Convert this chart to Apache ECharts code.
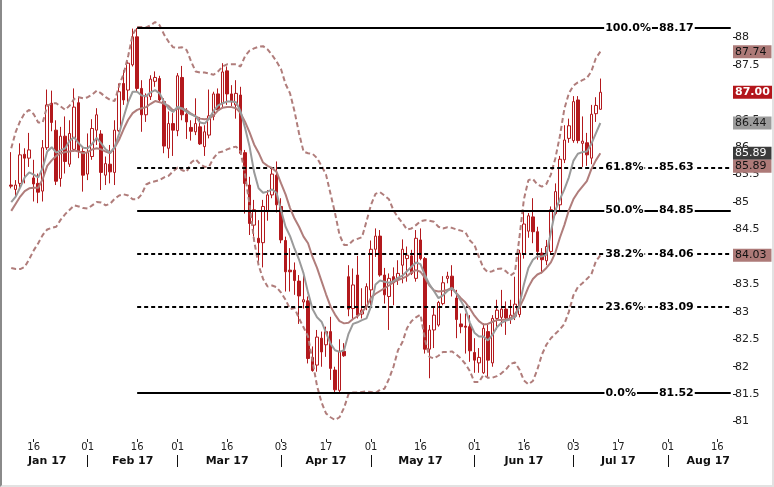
<!DOCTYPE html>
<html><head><meta charset="utf-8">
<script src="https://cdn.jsdelivr.net/npm/echarts@6/dist/echarts.min.js"></script>
<style>
html,body{margin:0;padding:0;background:#fff;}
#wrap{position:relative;width:774px;height:487px;}
#c{width:774px;height:487px;}
#frame{position:absolute;left:0;top:0;width:774px;height:487px;box-sizing:border-box;border-left:2px solid #8a8a8a;border-right:2px solid #e2e2e2;border-bottom:2px solid #e2e2e2;pointer-events:none;}
</style></head><body>
<div id="wrap"><div id="c"></div><div id="frame"></div></div>
<script>
// ---------- categories / axis labels ----------
const categoryStart = '2017-01-06';
const categoryCount = 162;
const firstCandleDate = '2017-01-09';
const dayTickDates = ['2017-01-16','2017-02-01','2017-02-16','2017-03-01','2017-03-16','2017-04-03','2017-04-17','2017-05-01','2017-05-16','2017-06-01','2017-06-16','2017-07-03','2017-07-17','2017-08-01','2017-08-16'];
const monthSepDates = ['2017-02-01','2017-03-01','2017-04-03','2017-05-01','2017-06-01','2017-07-03','2017-08-01'];
const monthLabelDates = ['2017-01-19','2017-02-15','2017-03-16','2017-04-17','2017-05-16','2017-06-16','2017-07-17','2017-08-14'];
const monthLabelNames = ['Jan 17','Feb 17','Mar 17','Apr 17','May 17','Jun 17','Jul 17','Aug 17'];
const yTickValues = [81,81.5,82,82.5,83,83.5,84,84.5,85,85.5,86,86.5,87,87.5,88];

// ---------- OHLC (Jan 9 .. Jul 11, 2017) ----------
const open = [85.31,85.23,85.34,85.87,85.80,85.44,85.34,85.20,85.99,86.80, 86.31,85.43,86.20,85.69,85.96,86.81,85.92,85.51,85.83,86.31, 86.24,85.49,85.69,85.54,86.30,87.16,87.04,87.50,88.01,87.07, 86.59,86.92,87.20,87.25,86.83,85.98,86.43,86.30,87.27,86.60, 86.36,86.28,86.37,86.01,86.22,86.56,86.97,86.80,87.39,86.97, 86.77,86.95,85.90,85.31,84.58,84.34,84.26,84.83,85.13,85.49, 84.92,84.30,83.76,83.76,83.56,83.18,83.20,82.17,82.03,82.52, 82.40,82.64,81.94,81.57,82.28,83.64,83.06,83.67,82.96,83.09, 83.40,84.14,84.38,83.67,83.28,83.64,83.61,83.85,83.97,84.02, 83.61,84.31,83.97,82.32,82.67,82.76,83.15,83.61,83.65,83.25, 82.78,82.74,82.73,82.26,82.07,81.89,82.64,82.07,82.88,82.90, 83.05,82.88,82.92,82.95,84.05,84.47,84.73,84.46,84.07,83.93, 84.10,84.79,84.95,85.77,86.16,86.12,86.86,86.07,86.08,85.80, 86.61,86.69];
const high = [85.91,85.40,86.07,85.98,86.26,85.77,85.52,86.13,87.05,87.03, 86.49,86.37,86.56,86.49,87.07,86.92,86.01,86.25,86.51,86.71, 86.31,85.83,86.04,86.49,87.16,87.40,87.56,88.16,88.17,87.22, 86.98,87.31,87.38,87.30,86.89,86.65,86.62,87.35,87.48,86.71, 86.49,86.89,86.55,86.40,87.05,87.01,87.07,87.53,87.47,87.13, 87.22,87.10,85.95,85.46,85.04,84.67,85.04,85.22,85.64,85.74, 85.07,84.37,84.16,83.90,83.67,83.67,83.28,82.37,82.67,82.64, 82.73,82.91,82.00,82.50,82.43,83.85,83.79,84.02,83.43,83.52, 84.30,84.52,84.49,83.80,83.70,83.81,83.94,84.32,84.19,84.13, 84.49,84.52,84.00,82.76,83.09,83.20,83.65,83.73,83.85,83.40, 82.97,82.97,82.94,82.52,82.34,82.79,82.79,82.94,83.22,83.40, 83.19,83.22,83.64,84.13,84.85,84.80,85.07,84.55,84.16,84.31, 84.92,85.34,85.84,86.40,86.52,86.93,86.93,86.56,86.26,86.77, 86.91,87.25];
const low = [85.25,85.08,85.25,85.34,85.64,85.01,84.98,85.01,85.95,86.29, 85.31,85.28,85.52,85.64,85.92,85.80,85.19,85.40,85.77,86.04, 85.22,85.31,85.34,85.31,86.28,86.77,86.80,87.47,87.01,86.28, 86.46,86.86,87.10,86.83,85.89,85.80,85.84,86.20,86.49,86.15, 86.12,86.22,86.04,85.84,86.16,86.49,86.65,86.71,86.77,86.75, 86.52,85.86,84.79,84.40,84.37,83.88,83.81,84.66,85.07,84.81, 84.25,83.37,83.37,83.31,82.78,83.06,82.06,81.91,81.91,82.00, 82.18,81.76,81.52,81.54,82.18,82.92,82.85,82.88,82.88,83.03, 83.12,84.00,83.64,83.15,82.67,83.12,83.49,83.52,83.55,83.67, 83.55,83.94,82.24,81.79,82.34,82.73,83.12,83.52,83.28,82.52, 82.61,82.24,82.09,81.89,81.89,81.87,81.79,82.00,82.68,82.73, 82.58,82.78,82.85,82.90,83.97,84.35,84.25,83.95,83.70,83.85, 84.04,84.76,84.82,85.71,86.08,86.08,86.07,85.64,85.66,85.69, 86.46,86.68];
const close = [85.29,85.31,85.86,85.80,85.95,85.33,85.18,85.99,86.77,86.45, 85.38,86.20,85.74,86.25,86.73,85.92,85.49,85.90,86.34,86.59, 85.54,85.70,85.55,86.31,87.01,86.86,87.53,88.01,87.07,86.59, 86.92,87.24,87.27,86.86,86.02,86.43,86.31,87.30,86.59,86.46, 86.29,86.43,86.06,86.28,86.57,86.97,86.68,87.37,86.97,86.83, 86.98,85.89,85.34,84.61,84.86,84.26,84.92,85.13,85.51,84.95, 84.31,83.73,83.73,83.57,83.29,83.22,82.15,81.93,82.54,82.27, 82.64,81.97,81.58,82.28,82.20,83.05,83.49,82.94,83.03,83.46, 84.14,84.38,83.67,83.31,83.61,83.53,83.70,84.14,84.03,83.70, 84.34,83.97,82.32,82.67,82.94,83.17,83.53,83.65,83.40,82.86, 82.73,82.72,82.29,82.12,82.17,82.70,82.12,82.88,83.03,83.05, 82.89,82.94,83.14,84.07,84.60,84.75,84.46,84.10,83.95,84.19, 84.86,85.19,85.78,86.13,86.39,86.83,86.12,86.11,85.86,86.60, 86.76,87.00];

// ---------- indicators ----------
const bbUpper = [85.98,86.28,86.48,86.62,86.68,86.60,86.45,86.45,86.75,86.80, 86.80,86.74,86.68,86.76,86.88,86.91,86.89,86.91,86.96,87.03, 86.98,86.91,86.86,86.84,87.12,87.34,87.66,88.05,88.19,88.19, 88.18,88.22,88.28,88.22,88.05,87.92,87.82,87.81,87.82,87.77, 87.56,87.38,87.36,87.36,87.34,87.32,87.38,87.47,87.51,87.51, 87.51,87.47,87.66,87.76,87.80,87.83,87.84,87.78,87.68,87.56, 87.42,87.15,86.98,86.65,86.25,85.92,85.89,85.88,85.80,85.66, 85.50,85.15,84.80,84.40,84.22,84.22,84.30,84.33,84.36,84.65, 84.95,85.15,85.18,85.12,85.05,84.85,84.72,84.62,84.50,84.52, 84.58,84.65,84.67,84.66,84.64,84.55,84.52,84.54,84.53,84.50, 84.48,84.45,84.30,84.22,84.00,83.80,83.72,83.74,83.78,83.79, 83.74,83.66,83.72,84.35,85.05,85.40,85.42,85.32,85.28,85.33, 85.50,85.80,86.20,86.70,86.98,87.12,87.18,87.22,87.26,87.38, 87.62,87.74];
const bbLower = [83.80,83.78,83.78,83.82,83.96,84.12,84.25,84.40,84.50,84.53, 84.55,84.68,84.78,84.86,84.94,84.92,84.89,84.88,84.94,85.00, 84.99,84.94,84.97,85.06,85.12,85.14,85.12,85.05,85.05,85.14, 85.32,85.36,85.38,85.40,85.45,85.48,85.56,85.63,85.58,85.55, 85.72,85.78,85.69,85.64,85.65,85.80,85.90,85.92,85.96,85.99, 86.01,85.92,85.50,84.95,84.30,83.85,83.60,83.46,83.48,83.45, 83.35,83.22,83.05,83.07,82.88,82.72,82.55,82.10,81.65,81.35, 81.15,81.08,81.03,81.08,81.25,81.50,81.53,81.53,81.54,81.55, 81.54,81.52,81.58,81.60,81.78,82.00,82.30,82.45,82.70,82.83, 82.90,82.95,82.50,82.18,82.15,82.20,82.27,82.27,82.28,82.22, 82.15,82.05,81.92,81.72,81.72,81.85,81.80,81.80,81.83,81.88, 81.95,82.05,82.08,81.95,81.75,81.68,81.74,81.95,82.22,82.40, 82.52,82.60,82.68,82.78,83.00,83.30,83.45,83.52,83.60,83.68, 83.92,84.03];
const maGray = [85.00,85.10,85.27,85.45,85.54,85.50,85.45,85.62,85.92,86.00, 85.90,85.94,85.98,86.12,86.18,86.07,85.99,85.98,86.06,86.17, 86.07,85.96,85.90,86.00,86.25,86.55,86.82,87.01,87.01,86.94, 86.93,87.00,87.04,86.98,86.82,86.70,86.64,86.74,86.70,86.64, 86.60,86.56,86.45,86.43,86.52,86.66,86.76,86.80,86.83,86.83, 86.82,86.65,86.35,86.01,85.55,85.25,85.17,85.19,85.23,85.17, 84.85,84.55,84.38,84.15,83.95,83.70,83.35,83.05,82.90,82.82, 82.62,82.42,82.30,82.27,82.30,82.60,82.78,82.81,82.85,82.88, 83.10,83.50,83.57,83.55,83.53,83.56,83.62,83.66,83.74,83.82, 83.90,83.87,83.67,83.50,83.38,83.25,83.30,83.38,83.43,83.33, 83.20,83.05,82.80,82.62,82.55,82.55,82.48,82.58,82.72,82.80, 82.84,82.86,82.90,83.12,83.50,83.80,83.95,84.01,84.01,84.04, 84.45,84.85,85.05,85.23,85.45,85.75,85.88,85.91,85.92,86.06, 86.25,86.44];
const maBrown = [84.84,84.97,85.10,85.20,85.25,85.26,85.26,85.42,85.66,85.76, 85.84,85.89,85.91,85.92,85.94,85.92,85.89,85.91,85.96,85.98, 85.96,85.92,85.89,85.99,86.14,86.33,86.50,86.62,86.68,86.71, 86.73,86.79,86.84,86.82,86.79,86.75,86.67,86.70,86.71,86.67, 86.61,86.56,86.52,86.51,86.52,86.58,86.67,86.72,86.73,86.73, 86.71,86.62,86.46,86.27,86.05,85.90,85.72,85.66,85.62,85.55, 85.34,85.14,84.89,84.70,84.55,84.37,84.25,84.00,83.80,83.56, 83.32,83.10,82.95,82.83,82.79,82.80,82.87,82.92,83.00,83.09, 83.26,83.33,83.38,83.43,83.48,83.54,83.58,83.61,83.65,83.72, 83.76,83.73,83.62,83.48,83.39,83.37,83.38,83.40,83.44,83.34, 83.25,83.17,83.06,82.93,82.83,82.77,82.78,82.82,82.85,82.85, 82.86,82.88,82.96,83.08,83.25,83.45,83.60,83.68,83.72,83.80, 83.90,84.08,84.35,84.58,84.85,85.05,85.18,85.28,85.38,85.60, 85.76,85.89];

// ---------- Fibonacci retracement ----------
const fibStartDate = '2017-02-16';
const fibPercents = ['100.0%','61.8%','50.0%','38.2%','23.6%','0.0%'];
const fibValues = [88.17, 85.63, 84.85, 84.06, 83.09, 81.52];
const fibDashed = [false, true, false, true, true, false];

// ---------- right-hand value tags ----------
const tagValues = [87.74, 87.00, 86.44, 85.89, 85.89, 84.03];

// ===== build =====
function weekdays(start, n) {
  const out = [];
  const p = start.split('-').map(Number);
  const d = new Date(Date.UTC(p[0], p[1] - 1, p[2]));
  while (out.length < n) {
    const wd = d.getUTCDay();
    if (wd !== 0 && wd !== 6) out.push(d.toISOString().slice(0, 10));
    d.setUTCDate(d.getUTCDate() + 1);
  }
  return out;
}
const dates = weekdays(categoryStart, categoryCount);
const off = dates.indexOf(firstCandleDate);
function place(arr) {
  return dates.map((_, k) => (k >= off && k - off < arr.length) ? arr[k - off] : null);
}
const candleData = dates.map((_, k) => {
  const j = k - off;
  if (j < 0 || j >= open.length) return '-';
  return [open[j], close[j], low[j], high[j]];
});
const daySet = new Set(dayTickDates);
const sepSet = new Set(monthSepDates);
const monthMap = new Map(monthLabelDates.map((d, k) => [d, monthLabelNames[k]]));

const RED = '#b3191d';
const ROSE = '#b07d7b';
const GRAY = '#9a9a9a';
const FONT = 'DejaVu Sans';

const tagStyles = [
  { bg: '#ad7a78', fg: '#111', bold: false, shift: 0 },
  { bg: '#b3161b', fg: '#fff', bold: true, shift: 0 },
  { bg: '#9c9c9c', fg: '#1a1a1a', bold: false, shift: 0 },
  { bg: '#3b3b3b', fg: '#fff', bold: false, shift: 0 },
  { bg: '#ad7a78', fg: '#111', bold: false, shift: 13 },
  { bg: '#ad7a78', fg: '#111', bold: false, shift: 0 }
];

const lastDate = dates[dates.length - 1];
const fibLines = fibValues.map((v, k) => {
  const len = fibPercents[k].length;
  return [
    {
      coord: [fibStartDate, v],
      lineStyle: { color: '#000', width: 2, type: fibDashed[k] ? [4, 3] : 'solid' },
      label: {
        show: true,
        position: 'insideEnd',
        distance: 36,
        formatter: '{p|' + fibPercents[k] + '}{g' + len + '| }{v|' + v.toFixed(2) + '}'
      }
    },
    { coord: [lastDate, v] }
  ];
});

const txt = { fontFamily: FONT, fontSize: 11, fontWeight: 'bold', color: '#000', backgroundColor: '#fff', padding: [0, 1], lineHeight: 13 };

const chart = echarts.init(document.getElementById('c'), null, { renderer: 'canvas', width: 774, height: 487 });
chart.setOption({
  animation: false,
  backgroundColor: '#fff',
  textStyle: { fontFamily: FONT },
  grid: { left: 4.5, right: 41, top: 5, bottom: 50, containLabel: false },
  xAxis: [
    {
      type: 'category', data: dates, boundaryGap: true, position: 'bottom', offset: 2,
      axisLine: { show: false },
      axisTick: { show: true, alignWithLabel: true, length: 3, interval: (i, v) => daySet.has(v), lineStyle: { color: '#222' } },
      axisLabel: { interval: (i, v) => daySet.has(v), formatter: v => v.slice(8, 10), fontFamily: FONT, fontSize: 10, color: '#222', margin: 3 },
      splitLine: { show: false }
    },
    {
      type: 'category', data: dates, boundaryGap: true, position: 'bottom', offset: 18,
      axisLine: { show: false },
      axisTick: { show: true, alignWithLabel: true, length: 12, interval: (i, v) => sepSet.has(v), lineStyle: { color: '#111' } },
      axisLabel: { interval: (i, v) => monthMap.has(v), formatter: v => monthMap.get(v) || '', fontFamily: FONT, fontSize: 11, fontWeight: 'bold', color: '#111', margin: 1 },
      splitLine: { show: false }
    }
  ],
  yAxis: {
    type: 'value', position: 'right', min: 80.72, max: 88.59, scale: true,
    splitLine: { show: false }, axisLine: { show: false },
    axisTick: { show: true, length: 4, customValues: yTickValues, lineStyle: { color: '#222' } },
    axisLabel: { customValues: yTickValues, fontFamily: FONT, fontSize: 11, color: '#222', margin: 2, formatter: v => String(v) }
  },
  series: [
    {
      name: 'fib', type: 'line', data: [], z: 1, silent: true,
      markLine: {
        silent: true, animation: false, symbol: ['none', 'none'],
        label: { rich: { p: txt, v: txt, g6: { width: 6 }, g5: { width: 13.5 }, g4: { width: 21 } } },
        data: fibLines
      }
    },
    {
      name: 'bbUpper', type: 'line', data: place(bbUpper), z: 4, symbol: 'none', silent: true,
      lineStyle: { color: ROSE, width: 2, type: [5, 3] }
    },
    {
      name: 'bbLower', type: 'line', data: place(bbLower), z: 4, symbol: 'none', silent: true,
      lineStyle: { color: ROSE, width: 2, type: [5, 3] }
    },
    {
      name: 'candles', type: 'candlestick', data: candleData, z: 3, barWidth: 3,
      itemStyle: { color: '#ffffff', color0: RED, borderColor: RED, borderColor0: RED, borderWidth: 1 }
    },
    {
      name: 'maBrown', type: 'line', data: place(maBrown), z: 5, symbol: 'none', silent: true,
      lineStyle: { color: ROSE, width: 2 }
    },
    {
      name: 'maGray', type: 'line', data: place(maGray), z: 5, symbol: 'none', silent: true,
      lineStyle: { color: GRAY, width: 2 }
    },
    {
      name: 'tags', type: 'line', data: [], z: 10, silent: true,
      markLine: {
        silent: true, animation: false, symbol: ['none', 'none'],
        lineStyle: { color: 'rgba(255,255,255,0)', width: 1, type: 'solid' },
        data: tagValues.map((v, k) => ({
          yAxis: v,
          label: {
            show: true, position: 'end', distance: 0, opacity: 1,
            formatter: v.toFixed(2),
            backgroundColor: tagStyles[k].bg, color: tagStyles[k].fg,
            fontWeight: tagStyles[k].bold ? 'bold' : 'normal',
            fontFamily: FONT, fontSize: 11, lineHeight: 12, padding: [1, 5, 0, 2],
            offset: [0, tagStyles[k].shift]
          }
        }))
      }
    }
  ]
});
</script>
</body></html>
